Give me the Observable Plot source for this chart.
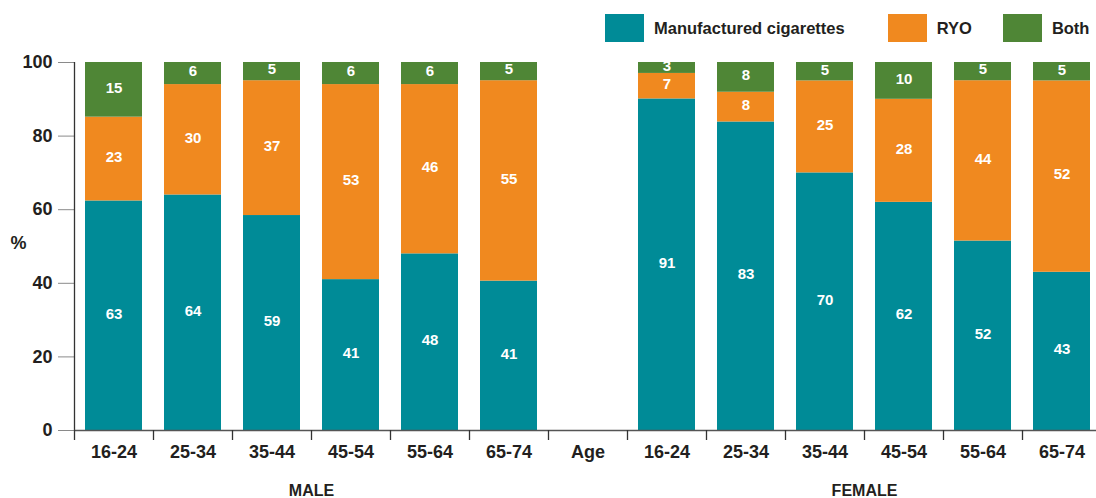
<!DOCTYPE html>
<html>
<head>
<meta charset="utf-8">
<script src="https://cdn.jsdelivr.net/npm/d3@7"></script>
<script src="https://cdn.jsdelivr.net/npm/@observablehq/plot@0.6"></script>
<style>
  body { margin: 0; background: #fff; font-family: "Liberation Sans", Arial, sans-serif; color: #231f20; }
  #legend { height: 50px; display: flex; align-items: flex-start; padding-left: 605px; font-weight: bold; font-size: 16.5px; white-space: nowrap; }
  #legend .item { display: flex; align-items: center; margin-top: 14px; }
  #legend .item:nth-child(1) { margin-right: 43px; }
  #legend .item:nth-child(2) { margin-right: 31px; }
  #legend .sw { width: 39px; height: 28px; margin-right: 10px; flex: none; }
  #legend .lbl { line-height: 28px; }
  svg { overflow: visible; display: block; }
</style>
</head>
<body>
<div id="legend"></div>
<div id="chart"></div>
<script>
// ---- data ----
const ageGroups = ["16-24", "25-34", "35-44", "45-54", "55-64", "65-74"];
const seriesNames = ["Manufactured cigarettes", "RYO", "Both"];
const seriesColors = ["#008b97", "#f0891f", "#4f8636"];
const maleManufactured = [63, 64, 59, 41, 48, 41];
const maleRYO = [23, 30, 37, 53, 46, 55];
const maleBoth = [15, 6, 5, 6, 6, 5];
const femaleManufactured = [91, 83, 70, 62, 52, 43];
const femaleRYO = [7, 8, 25, 28, 44, 52];
const femaleBoth = [3, 8, 5, 10, 5, 5];
const gapLabel = "Age";
const groupLabels = ["MALE", "FEMALE"];
const yTicks = [0, 20, 40, 60, 80, 100];

// ---- build table ----
const rows = [];
function addGroup(prefix, series) {
  ageGroups.forEach((age, i) => {
    series.forEach((vals, s) => {
      rows.push({key: prefix + "|" + age, age, type: seriesNames[s], value: vals[i]});
    });
  });
}
addGroup("M", [maleManufactured, maleRYO, maleBoth]);
addGroup("F", [femaleManufactured, femaleRYO, femaleBoth]);
const xDomain = [...ageGroups.map(a => "M|" + a), gapLabel, ...ageGroups.map(a => "F|" + a)];

// ---- legend ----
const legend = document.getElementById("legend");
seriesNames.forEach((name, i) => {
  const item = document.createElement("div");
  item.className = "item";
  item.innerHTML = `<div class="sw" style="background:${seriesColors[i]}"></div><div class="lbl">${name}</div>`;
  legend.appendChild(item);
});

// ---- chart ----
const W = 1096, H = 448, mL = 74, mT = 12, mB = 68;
const xRange = [mL, 1101];
const step = (xRange[1] - xRange[0]) / xDomain.length;
const stackOpts = {offset: "normalize", order: seriesNames, x: "key", y: "value", z: "type"};
const font = '"Liberation Sans", Arial, sans-serif';

const chart = Plot.plot({
  width: W,
  height: H,
  marginTop: mT,
  marginBottom: mB,
  marginLeft: mL,
  marginRight: 0,
  style: {fontFamily: font, color: "#231f20", overflow: "visible"},
  x: {domain: xDomain, range: xRange, paddingInner: 0.28, paddingOuter: 0.14, axis: null},
  y: {domain: [0, 1], axis: null},
  color: {domain: seriesNames, range: seriesColors},
  marks: [
    Plot.barY(rows, Plot.stackY({...stackOpts, fill: "type"})),
    Plot.text(rows, Plot.stackY({...stackOpts, text: "value", fill: "white", fontWeight: "bold", fontSize: 15, dy: -2})),
    // y axis
    Plot.axisY({
      ticks: yTicks.map(t => t / 100),
      tickFormat: d => Math.round(d * 100),
      tickSize: 16, tickPadding: 6, label: null,
      stroke: "#8a8a8a", fill: "#231f20",
      fontSize: 18, fontWeight: "bold"
    }),
    Plot.ruleX([xDomain[0]], {x: d => d, dx: -step / 2, y1: 1, y2: 0, stroke: "#333", strokeWidth: 1.3}),
    // x axis line and band-boundary ticks
    Plot.ruleY([0], {stroke: "#555", strokeWidth: 1.5}),
    Plot.ruleX(xDomain, {x: d => d, dx: -step / 2, y1: 0, y2: 0, insetBottom: -10, stroke: "#333", strokeWidth: 1.3}),
    Plot.axisX({
      tickSize: 0, tickPadding: 15, label: null,
      tickFormat: d => d.split("|").pop(),
      fontSize: 18, fontWeight: "bold", fill: "#231f20"
    }),
    // group labels
    Plot.text([{label: groupLabels[0], at: xDomain[3]}, {label: groupLabels[1], at: xDomain[10]}], {
      x: "at", text: "label", dx: -step / 2, frameAnchor: "bottom", lineAnchor: "middle", dy: 60,
      fontSize: 16, fontWeight: "bold", fill: "#231f20"
    }),
    // % label
    Plot.text(["%"], {frameAnchor: "left", textAnchor: "middle", dx: -56, dy: -3, fontSize: 18, fontWeight: "bold", fill: "#231f20"})
  ]
});
document.getElementById("chart").appendChild(chart);
</script>
</body>
</html>
